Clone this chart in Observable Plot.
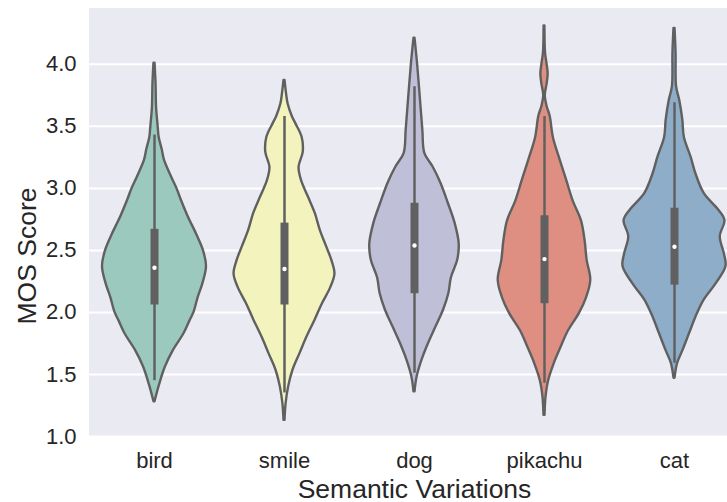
<!DOCTYPE html>
<html><head><meta charset="utf-8">
<script src="https://cdn.jsdelivr.net/npm/d3@7"></script>
<script src="https://cdn.jsdelivr.net/npm/@observablehq/plot@0.6"></script>
<style>
html,body{margin:0;padding:0;background:#fff;overflow:hidden;width:727px;height:502px}
#chart{width:727px;height:502px;overflow:hidden;position:relative}
#chart svg{display:block}
</style></head><body><div id="chart"></div>
<script>
const categories = ["bird", "smile", "dog", "pikachu", "cat"];
const colors = ["#9bc9be", "#f3f4bd", "#c0bfd8", "#df8f82", "#8eadc8"];
const yTicks = [1.0, 1.5, 2.0, 2.5, 3.0, 3.5, 4.0];

// [MOS score, relative density]
const birdDensity = [[1.28,0.01],[1.42,0.10],[1.56,0.21],[1.69,0.36],[1.83,0.57],[1.93,0.68],[2.0,0.76],[2.12,0.84],[2.23,0.93],[2.37,1.0],[2.50,0.94],[2.63,0.81],[2.77,0.65],[2.90,0.52],[3.0,0.43],[3.09,0.33],[3.23,0.19],[3.31,0.15],[3.41,0.09],[3.50,0.07],[3.65,0.04],[3.84,0.03],[4.01,0.01]];
const smileDensity = [[1.13,0.01],[1.26,0.03],[1.40,0.08],[1.53,0.16],[1.67,0.30],[1.80,0.43],[1.94,0.59],[2.07,0.73],[2.20,0.89],[2.31,0.97],[2.42,0.91],[2.53,0.81],[2.66,0.69],[2.80,0.59],[2.93,0.46],[3.06,0.33],[3.17,0.28],[3.29,0.36],[3.41,0.34],[3.52,0.22],[3.58,0.15],[3.68,0.07],[3.76,0.04],[3.87,0.01]];
const dogDensity = [[1.36,0.01],[1.48,0.05],[1.61,0.14],[1.75,0.27],[1.88,0.41],[2.02,0.56],[2.15,0.66],[2.28,0.71],[2.42,0.83],[2.55,0.86],[2.72,0.78],[2.88,0.65],[3.04,0.51],[3.17,0.36],[3.28,0.20],[3.47,0.16],[3.74,0.11],[4.0,0.06],[4.21,0.01]];
const pikachuDensity = [[1.17,0.01],[1.32,0.03],[1.45,0.08],[1.59,0.19],[1.72,0.32],[1.85,0.46],[1.99,0.67],[2.12,0.81],[2.26,0.89],[2.42,0.82],[2.58,0.78],[2.74,0.71],[2.90,0.55],[3.06,0.43],[3.23,0.30],[3.41,0.17],[3.58,0.11],[3.66,0.05],[3.75,0.015],[3.84,0.05],[3.92,0.07],[4.0,0.05],[4.09,0.02],[4.31,0.008]];
const catDensity = [[1.47,0.01],[1.59,0.06],[1.69,0.16],[1.83,0.29],[1.96,0.41],[2.10,0.57],[2.23,0.80],[2.37,0.99],[2.47,0.96],[2.61,0.88],[2.74,0.97],[2.82,0.86],[2.96,0.57],[3.12,0.41],[3.25,0.32],[3.41,0.19],[3.55,0.16],[3.71,0.10],[3.82,0.04],[4.09,0.03],[4.29,0.01]];

const whiskerLow  = [1.45, 1.35, 1.51, 1.43, 1.59];
const quartile1   = [2.06, 2.06, 2.15, 2.07, 2.22];
const medians     = [2.36, 2.35, 2.54, 2.43, 2.53];
const quartile3   = [2.67, 2.72, 2.88, 2.78, 2.84];
const whiskerHigh = [3.43, 3.58, 3.82, 3.58, 3.69];

const profiles = [birdDensity, smileDensity, dogDensity, pikachuDensity, catDensity];
const violinRows = categories.flatMap((c, i) => profiles[i].map(([score, density]) => ({category: c, score, density})));
const boxRows = categories.map((c, i) => ({category: c, lo: whiskerLow[i], q1: quartile1[i], med: medians[i], q3: quartile3[i], hi: whiskerHigh[i]}));

const outline = "#606060";
const chart = Plot.plot({
  width: 727, height: 502,
  marginLeft: 87, marginRight: -14, marginTop: 8, marginBottom: 66,
  style: {fontFamily: "'Liberation Sans', Arial, sans-serif", color: "#262626", background: "transparent", overflow: "hidden"},
  fx: {domain: categories, padding: 0},
  x: {domain: [-1.25, 1.25], axis: null},
  y: {domain: [1.0, 4.45]},
  color: {domain: categories, range: colors},
  marks: [
    Plot.frame({fill: "#eaeaf2", stroke: "#eaeaf2"}),
    Plot.gridY(yTicks, {stroke: "white", strokeOpacity: 1, strokeWidth: 2}),
    Plot.axisY(yTicks, {tickSize: 0, tickPadding: 13, tickFormat: d3.format(".1f"), label: null, fontSize: 22}),
    Plot.axisFx({anchor: "bottom", tickSize: 0, tickPadding: 16, label: null, fontSize: 22}),
    Plot.areaX(violinRows, {fx: "category", y: "score", x1: d => -d.density, x2: "density", fill: "category", stroke: outline, strokeWidth: 2.4, curve: "catmull-rom"}),
    Plot.ruleX(boxRows, {fx: "category", x: d => 0, y1: "lo", y2: "hi", stroke: outline, strokeWidth: 2.5}),
    Plot.ruleX(boxRows, {fx: "category", x: d => 0, y1: "q1", y2: "q3", stroke: outline, strokeWidth: 8}),
    Plot.dot(boxRows, {fx: "category", x: d => 0, y: "med", r: 2.2, fill: "white", stroke: null}),
    Plot.text(["MOS Score"], {facet: "super", text: d => d, frameAnchor: "left", rotate: -90, dx: -62, dy: 102, fontSize: 26.5, fill: "#262626"}),
    Plot.text(["Semantic Variations"], {facet: "super", text: d => d, frameAnchor: "bottom", dy: 61, fontSize: 26.5, fill: "#262626"})
  ]
});
document.getElementById("chart").append(chart);
</script></body></html>
